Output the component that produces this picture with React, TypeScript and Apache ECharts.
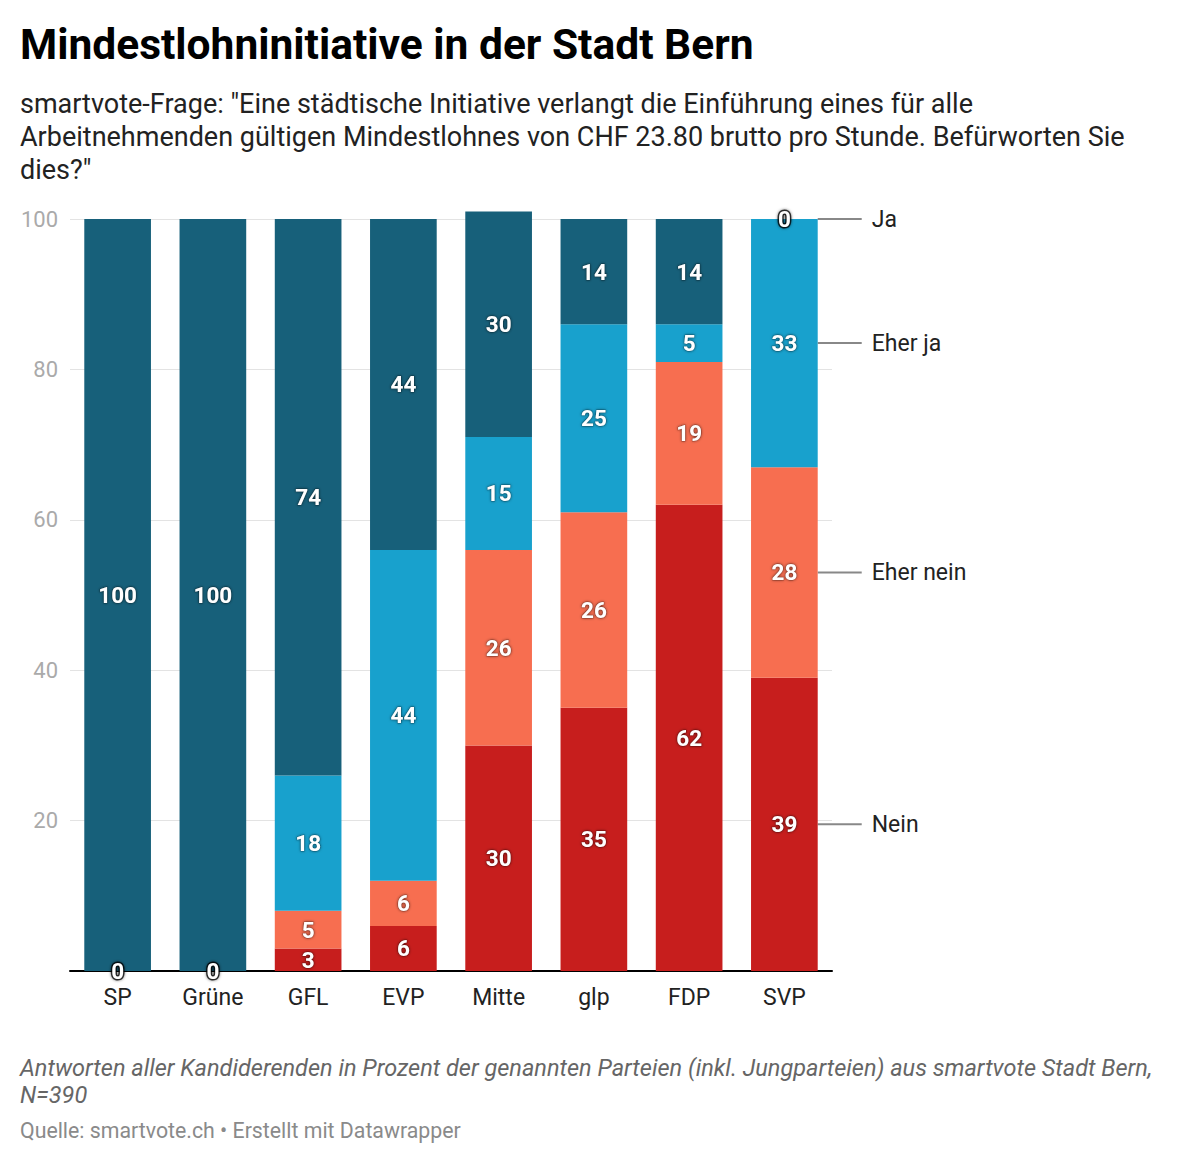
import React, { useEffect, useRef } from "react";
import * as echarts from "echarts";

const categories = ["SP", "Grüne", "GFL", "EVP", "Mitte", "glp", "FDP", "SVP"];
const nein = [0, 0, 3, 6, 30, 35, 62, 39];
const eherNein = [0, 0, 5, 6, 26, 26, 19, 28];
const eherJa = [0, 0, 18, 44, 15, 25, 5, 33];
const ja = [100, 100, 74, 44, 30, 14, 14, 0];
const seriesNames = ["Nein", "Eher nein", "Eher ja", "Ja"];
const seriesColors = ["#c71e1d", "#f76e50", "#18a1cd", "#17607a"];
const yTicks = [0, 20, 40, 60, 80, 100];

const title = "Mindestlohninitiative in der Stadt Bern";
const subtitle =
  'smartvote-Frage: "Eine städtische Initiative verlangt die Einführung eines für alle\nArbeitnehmenden gültigen Mindestlohnes von CHF 23.80 brutto pro Stunde. Befürworten Sie\ndies?"';
const notes =
  "Antworten aller Kandiderenden in Prozent der genannten Parteien (inkl. Jungparteien) aus smartvote Stadt Bern,\nN=390";
const source = "Quelle: smartvote.ch • Erstellt mit Datawrapper";

const FONT = "Roboto, 'Noto Sans', sans-serif";

export default function App() {
  const ref = useRef<HTMLDivElement>(null);
  useEffect(() => {
    if (!ref.current) return;
    const chart = echarts.init(ref.current, undefined, { renderer: "svg" });
    const all = [nein, eherNein, eherJa, ja];
    const series = all.map((vals, si) => ({
      name: seriesNames[si],
      type: "bar",
      stack: "total",
      barCategoryGap: "30%",
      clip: false,
      itemStyle: { color: seriesColors[si] },
      label: {
        show: true,
        position: "inside",
        color: "#fff",
        fontFamily: FONT,
        fontWeight: "bold",
        fontSize: 22.5,
        textShadowColor: "rgba(0,0,0,0.6)",
        textShadowBlur: 3,
        textBorderColor: "rgba(0,0,0,0.25)",
        textBorderWidth: 1,
        formatter: (p: any) => String(p.value),
      },
      data: vals.map((v) => {
        const showZero = si === 0 || si === all.length - 1;
        if (v === 0 && !showZero) return { value: v, label: { show: false } };
        if (v === 0)
          return {
            value: v,
            label: { show: true, textBorderColor: "rgba(0,0,0,0.75)", textBorderWidth: 3 },
          };
        return { value: v };
      }),
    }));

    chart.setOption({
      animation: false,
      grid: { left: 70, right: 368, top: 219, bottom: 192 },
      xAxis: {
        type: "category",
        data: categories,
        axisLine: { lineStyle: { color: "#000", width: 2 } },
        axisTick: { show: false },
        axisLabel: { color: "#222", fontSize: 23, fontFamily: FONT, margin: 15 },
      },
      yAxis: {
        type: "value",
        min: 0,
        max: 100,
        interval: 20,
        axisLine: { show: false },
        axisTick: { show: false },
        axisLabel: {
          color: "#aaa",
          fontSize: 22,
          fontFamily: FONT,
          margin: 12,
          formatter: (v: number) => (yTicks.includes(v) && v !== 0 ? String(v) : ""),
        },
        splitLine: { lineStyle: { color: "#e3e3e3", width: 1 } },
      },
      series,
    });

    const last = categories.length - 1;
    let cum = 0;
    const graphics: any[] = [
      {
        type: "text",
        left: 20,
        top: 23,
        style: { text: title, fontSize: 42.5, fontWeight: "bold", fontFamily: FONT, fill: "#000" },
      },
      {
        type: "text",
        left: 20,
        top: 87,
        style: { text: subtitle, fontSize: 27, lineHeight: 33, fontFamily: FONT, fill: "#222" },
      },
      {
        type: "text",
        left: 20,
        top: 1055,
        style: {
          text: notes,
          fontSize: 23.5,
          lineHeight: 26.5,
          fontStyle: "italic",
          fontFamily: FONT,
          fill: "#666",
        },
      },
      {
        type: "text",
        left: 20,
        top: 1120,
        style: { text: source, fontSize: 21.3, fontFamily: FONT, fill: "#8a8a8a" },
      },
    ];
    const barRight = chart.convertToPixel({ xAxisIndex: 0 }, last) + 95.25 * 0.35;
    all.forEach((vals, si) => {
      const v = vals[last];
      const mid = cum + v / 2;
      cum += v;
      const py = chart.convertToPixel({ yAxisIndex: 0 }, mid);
      graphics.push({
        type: "line",
        shape: { x1: barRight, y1: py, x2: barRight + 44, y2: py },
        style: { stroke: "#888", lineWidth: 2 },
      });
      graphics.push({
        type: "text",
        x: barRight + 54,
        y: py,
        style: {
          text: seriesNames[si],
          fontSize: 23,
          fontFamily: FONT,
          fill: "#222",
          verticalAlign: "middle",
          align: "left",
        },
      });
    });
    chart.setOption({ graphic: graphics });

    return () => chart.dispose();
  }, []);
  return (
    <div
      ref={ref}
      style={{ position: "absolute", left: 0, top: 0, width: 1200, height: 1163, background: "#fff" }}
    />
  );
}
